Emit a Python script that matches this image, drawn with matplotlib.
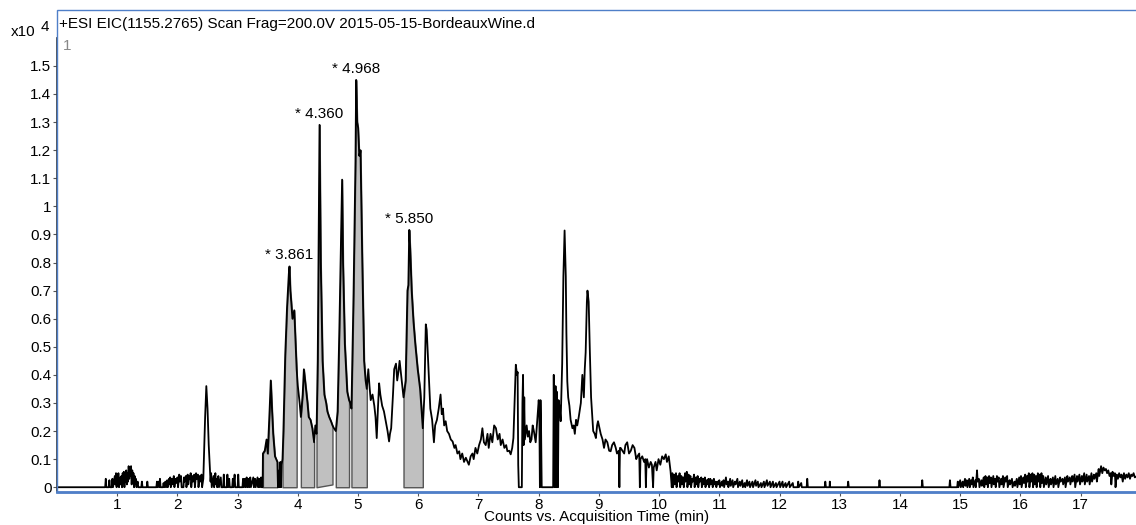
import numpy as np
import matplotlib
matplotlib.use("Agg")
import matplotlib.pyplot as plt
from matplotlib.patches import Rectangle

plt.rcParams['font.family'] = ['Liberation Sans', 'DejaVu Sans']

################################################################################
# chromatogram trace: (minutes, counts x10^4)

early_noise = [
    (0.00, 0), (0.80, 0), (0.81, 0.03), (0.82, 0), (0.86, 0), (0.87, 0.025), (0.88, 0),
    (0.91, 0), (0.92, 0.03), (0.93, 0), (0.96, 0.04), (0.97, 0.01), (0.98, 0.05), (0.99, 0),
    (1.00, 0.045), (1.01, 0.02), (1.02, 0.05), (1.03, 0), (1.05, 0.035), (1.06, 0.01),
    (1.07, 0.04), (1.08, 0), (1.09, 0.05), (1.10, 0.03), (1.11, 0.055), (1.12, 0),
    (1.13, 0.045), (1.14, 0.02), (1.15, 0.06), (1.16, 0.01), (1.17, 0.05), (1.18, 0.02),
    (1.19, 0.075), (1.20, 0.03), (1.21, 0.07), (1.22, 0.04), (1.23, 0.075), (1.24, 0.01),
    (1.25, 0.06), (1.26, 0.02), (1.27, 0.05), (1.28, 0), (1.29, 0.04), (1.30, 0.01),
    (1.31, 0.03), (1.32, 0), (1.34, 0.02), (1.35, 0), (1.40, 0), (1.41, 0.02), (1.42, 0),
    (1.49, 0), (1.50, 0.02), (1.51, 0),
    (1.65, 0), (1.66, 0.02), (1.67, 0), (1.69, 0.02), (1.70, 0), (1.71, 0.03), (1.72, 0),
    (1.76, 0), (1.77, 0.015), (1.78, 0), (1.80, 0.02), (1.81, 0), (1.83, 0.025), (1.84, 0),
    (1.86, 0.03), (1.87, 0.01), (1.88, 0.035), (1.89, 0), (1.91, 0.03), (1.92, 0.01),
    (1.94, 0.04), (1.95, 0), (1.97, 0.03), (1.98, 0.015), (2.00, 0.035), (2.01, 0),
    (2.03, 0.045), (2.04, 0.02), (2.06, 0.04), (2.07, 0), (2.10, 0), (2.11, 0.035),
    (2.12, 0.02), (2.14, 0.04), (2.15, 0), (2.17, 0.045), (2.18, 0.01), (2.20, 0.04),
    (2.21, 0.03), (2.22, 0.05), (2.23, 0), (2.25, 0.04), (2.26, 0.02), (2.28, 0.045),
    (2.29, 0), (2.31, 0.05), (2.32, 0.03), (2.34, 0.045), (2.35, 0), (2.37, 0.04),
    (2.38, 0.02), (2.40, 0.045), (2.41, 0), (2.43, 0.03), (2.44, 0.10), (2.46, 0.25),
    (2.48, 0.36), (2.50, 0.28), (2.52, 0.15), (2.54, 0.06), (2.55, 0.02), (2.56, 0.05),
    (2.57, 0), (2.60, 0.04), (2.61, 0), (2.63, 0.05), (2.64, 0.01), (2.65, 0.03), (2.66, 0),
    (2.68, 0.04), (2.69, 0), (2.72, 0.035), (2.73, 0), (2.76, 0), (2.77, 0.045), (2.78, 0),
    (2.82, 0), (2.83, 0.045), (2.84, 0), (2.86, 0.03), (2.87, 0), (2.91, 0), (2.92, 0.03),
    (2.93, 0), (2.95, 0.045), (2.96, 0), (3.00, 0), (3.01, 0.045), (3.02, 0), (3.08, 0),
    (3.09, 0.03), (3.10, 0), (3.12, 0.03), (3.13, 0), (3.15, 0.035), (3.16, 0), (3.18, 0.03),
    (3.19, 0), (3.21, 0.035), (3.22, 0), (3.26, 0.035), (3.27, 0), (3.29, 0.03), (3.30, 0),
    (3.33, 0.035), (3.34, 0), (3.36, 0.03), (3.37, 0), (3.39, 0.035), (3.40, 0), (3.415, 0),
]

main_peaks = [
    (3.42, 0.12), (3.45, 0.13), (3.48, 0.17), (3.50, 0.12), (3.53, 0.27), (3.55, 0.38),
    (3.57, 0.28), (3.59, 0.19), (3.62, 0.11), (3.64, 0.10), (3.66, 0.09), (3.67, 0),
    (3.69, 0.06), (3.70, 0), (3.71, 0.09), (3.72, 0), (3.73, 0.08), (3.745, 0.10),
    (3.76, 0.20), (3.79, 0.47), (3.82, 0.64), (3.85, 0.76), (3.861, 0.786), (3.875, 0.70),
    (3.89, 0.66), (3.91, 0.60), (3.94, 0.63), (3.96, 0.52), (3.98, 0.42), (4.00, 0.36),
    (4.03, 0.30), (4.05, 0.25), (4.08, 0.33), (4.10, 0.42), (4.12, 0.38), (4.14, 0.34),
    (4.16, 0.30), (4.18, 0.25), (4.21, 0.24), (4.24, 0.21), (4.27, 0.16), (4.29, 0.22),
    (4.31, 0.19), (4.33, 0.45), (4.35, 1.00), (4.36, 1.29), (4.38, 0.80), (4.41, 0.45),
    (4.44, 0.33), (4.47, 0.30), (4.49, 0.27), (4.52, 0.25), (4.55, 0.235), (4.575, 0.22),
    (4.60, 0.21), (4.63, 0.20), (4.66, 0.27), (4.69, 0.57), (4.72, 0.93), (4.735, 1.095),
    (4.75, 0.80), (4.78, 0.51), (4.82, 0.34), (4.85, 0.31), (4.87, 0.30), (4.89, 0.28),
    (4.925, 0.69), (4.957, 1.16), (4.968, 1.45), (4.985, 1.30), (5.00, 1.28), (5.02, 1.18),
    (5.04, 1.20), (5.07, 0.80), (5.10, 0.45), (5.125, 0.38), (5.145, 0.35), (5.17, 0.42),
    (5.19, 0.36), (5.21, 0.31), (5.24, 0.33), (5.27, 0.29), (5.29, 0.25), (5.31, 0.175),
    (5.33, 0.28), (5.35, 0.37), (5.37, 0.33), (5.40, 0.29), (5.43, 0.27), (5.46, 0.235),
    (5.49, 0.20), (5.515, 0.163), (5.53, 0.19), (5.55, 0.21), (5.58, 0.33), (5.60, 0.42),
    (5.63, 0.44), (5.65, 0.38), (5.67, 0.41), (5.69, 0.45), (5.72, 0.39), (5.755, 0.32),
    (5.79, 0.38), (5.82, 0.70), (5.835, 0.72), (5.85, 0.916), (5.865, 0.85), (5.875, 0.79),
    (5.89, 0.70), (5.92, 0.59), (5.95, 0.51), (5.99, 0.42), (6.03, 0.35), (6.06, 0.26),
    (6.075, 0.21),
]

middle = [
    (6.10, 0.32), (6.125, 0.58), (6.14, 0.56), (6.17, 0.42), (6.20, 0.28), (6.23, 0.24),
    (6.26, 0.16), (6.28, 0.22), (6.31, 0.24), (6.34, 0.28), (6.37, 0.33), (6.39, 0.26),
    (6.41, 0.28), (6.43, 0.22), (6.455, 0.235), (6.48, 0.20), (6.51, 0.19), (6.54, 0.17),
    (6.57, 0.163), (6.60, 0.14), (6.62, 0.15), (6.65, 0.12), (6.68, 0.128), (6.70, 0.10),
    (6.73, 0.12), (6.76, 0.09), (6.79, 0.105), (6.82, 0.09), (6.84, 0.08), (6.87, 0.11),
    (6.90, 0.12), (6.92, 0.10), (6.95, 0.14), (6.98, 0.12), (7.01, 0.15), (7.04, 0.17),
    (7.065, 0.21), (7.09, 0.16), (7.12, 0.15), (7.15, 0.19), (7.17, 0.14), (7.20, 0.19),
    (7.23, 0.16), (7.26, 0.22), (7.29, 0.21), (7.32, 0.17), (7.35, 0.19), (7.37, 0.15),
    (7.40, 0.17), (7.43, 0.14), (7.46, 0.15), (7.48, 0.128), (7.51, 0.13), (7.535, 0.117),
    (7.56, 0.14), (7.58, 0.175), (7.60, 0.30), (7.62, 0.436), (7.64, 0.40), (7.65, 0.41),
    (7.66, 0.08), (7.67, 0), (7.72, 0), (7.73, 0.30), (7.74, 0.40), (7.75, 0.15),
    (7.76, 0.32), (7.77, 0.17), (7.80, 0.22), (7.82, 0.18), (7.84, 0.20), (7.86, 0.16),
    (7.88, 0.17), (7.90, 0.22), (7.92, 0.20), (7.95, 0.16), (7.98, 0.25), (8.00, 0.31),
    (8.01, 0.28), (8.02, 0), (8.03, 0.31), (8.04, 0.20), (8.05, 0), (8.24, 0), (8.25, 0.40),
    (8.26, 0.10), (8.27, 0), (8.28, 0.36), (8.29, 0), (8.30, 0.34), (8.31, 0.05), (8.32, 0),
    (8.33, 0.31), (8.35, 0.28), (8.365, 0.235), (8.39, 0.44), (8.41, 0.75), (8.43, 0.914),
    (8.45, 0.75), (8.46, 0.55), (8.475, 0.377), (8.49, 0.32), (8.51, 0.29), (8.53, 0.24),
    (8.56, 0.21), (8.58, 0.22), (8.60, 0.19), (8.62, 0.24), (8.64, 0.22), (8.665, 0.25),
    (8.685, 0.28), (8.70, 0.30), (8.725, 0.40), (8.74, 0.35), (8.75, 0.32), (8.765, 0.42),
    (8.78, 0.48), (8.80, 0.66), (8.81, 0.70), (8.83, 0.66), (8.85, 0.48), (8.87, 0.32),
    (8.89, 0.25), (8.905, 0.20), (8.93, 0.19), (8.95, 0.175), (8.97, 0.22), (8.985, 0.235),
    (9.01, 0.21), (9.03, 0.19), (9.06, 0.17), (9.085, 0.14), (9.11, 0.17), (9.14, 0.16),
    (9.17, 0.13), (9.195, 0.128), (9.22, 0.15), (9.25, 0.16), (9.28, 0.14), (9.30, 0.12),
    (9.33, 0.13), (9.34, 0), (9.35, 0.14), (9.36, 0.14), (9.39, 0.13), (9.42, 0.12),
    (9.44, 0.15), (9.47, 0.16), (9.50, 0.12), (9.53, 0.13), (9.56, 0.15), (9.59, 0.14),
    (9.62, 0.10), (9.64, 0.11), (9.67, 0.12), (9.68, 0), (9.69, 0.10), (9.72, 0.11),
    (9.75, 0.09), (9.77, 0.10), (9.78, 0), (9.79, 0.08), (9.80, 0.10), (9.83, 0.07),
    (9.86, 0.09), (9.88, 0.08), (9.90, 0), (9.91, 0.07), (9.94, 0.09), (9.96, 0.06),
    (9.99, 0.10), (10.02, 0.08), (10.05, 0.11), (10.08, 0.10), (10.11, 0.117),
    (10.13, 0.09), (10.16, 0.11), (10.19, 0.057), (10.21, 0),
]

late_noise = [
    (10.22, 0.05), (10.23, 0), (10.25, 0.045), (10.26, 0.01), (10.28, 0.05), (10.29, 0),
    (10.31, 0.04), (10.32, 0.02), (10.34, 0.05), (10.35, 0), (10.37, 0.04), (10.38, 0.01),
    (10.40, 0.035), (10.41, 0), (10.43, 0.05), (10.44, 0.02), (10.46, 0.055), (10.47, 0),
    (10.49, 0.045), (10.50, 0.01), (10.52, 0.04), (10.53, 0), (10.55, 0.03), (10.56, 0.02),
    (10.58, 0.045), (10.59, 0), (10.61, 0.035), (10.62, 0.01), (10.64, 0.04), (10.65, 0),
    (10.67, 0.03), (10.68, 0.02), (10.70, 0.035), (10.71, 0), (10.73, 0.03), (10.74, 0.01),
    (10.76, 0.035), (10.77, 0), (10.79, 0.025), (10.80, 0.01), (10.82, 0.03), (10.83, 0),
    (10.85, 0.03), (10.86, 0.01), (10.88, 0.025), (10.89, 0), (10.91, 0.03), (10.92, 0.01),
    (10.94, 0.02), (10.95, 0), (10.97, 0.02), (10.98, 0.01), (11.00, 0.025), (11.01, 0),
    (11.04, 0.02), (11.05, 0.005), (11.07, 0.025), (11.08, 0), (11.11, 0.035), (11.12, 0.01),
    (11.14, 0.02), (11.15, 0), (11.18, 0.03), (11.19, 0.005), (11.22, 0.025), (11.23, 0),
    (11.26, 0.02), (11.27, 0.01), (11.30, 0.03), (11.31, 0), (11.34, 0.02), (11.35, 0.005),
    (11.38, 0.025), (11.39, 0), (11.42, 0.015), (11.43, 0), (11.46, 0.025), (11.47, 0.005),
    (11.50, 0.02), (11.51, 0), (11.55, 0.02), (11.56, 0), (11.60, 0.025), (11.61, 0.005),
    (11.64, 0.02), (11.65, 0), (11.69, 0.015), (11.70, 0), (11.74, 0.02), (11.75, 0),
    (11.79, 0.025), (11.80, 0.005), (11.84, 0.02), (11.85, 0), (11.89, 0.02), (11.90, 0),
    (11.94, 0.015), (11.95, 0), (12.00, 0.02), (12.01, 0), (12.05, 0.02), (12.06, 0),
    (12.10, 0.015), (12.11, 0), (12.16, 0.02), (12.17, 0), (12.22, 0.015), (12.23, 0),
    (12.30, 0), (12.31, 0.02), (12.32, 0), (12.36, 0.015), (12.37, 0), (12.45, 0),
    (12.46, 0.03), (12.47, 0), (12.75, 0), (12.76, 0.02), (12.77, 0), (12.83, 0),
    (12.835, 0.02), (12.84, 0), (13.13, 0), (13.14, 0.02), (13.15, 0), (13.65, 0),
    (13.66, 0.025), (13.67, 0), (14.36, 0), (14.37, 0.025), (14.38, 0), (14.82, 0),
    (14.83, 0.025), (14.84, 0), (14.95, 0), (14.96, 0.02), (14.97, 0),
]

tail_noise = [
    (15.00, 0.025), (15.01, 0), (15.04, 0.02), (15.05, 0), (15.08, 0.03), (15.09, 0.005),
    (15.11, 0.025), (15.12, 0), (15.15, 0.03), (15.16, 0), (15.18, 0.025), (15.19, 0.01),
    (15.21, 0.035), (15.22, 0), (15.25, 0.025), (15.26, 0), (15.28, 0.06), (15.29, 0.02),
    (15.31, 0.03), (15.32, 0), (15.35, 0.025), (15.36, 0.005), (15.39, 0.035), (15.40, 0),
    (15.42, 0.04), (15.43, 0.01), (15.45, 0.035), (15.46, 0), (15.48, 0.04), (15.49, 0.015),
    (15.51, 0.035), (15.52, 0), (15.55, 0.04), (15.56, 0.01), (15.58, 0.03), (15.59, 0),
    (15.61, 0.04), (15.62, 0.02), (15.64, 0.035), (15.65, 0), (15.68, 0.03), (15.69, 0.01),
    (15.71, 0.04), (15.72, 0), (15.75, 0.035), (15.76, 0.02), (15.78, 0.04), (15.79, 0),
    (15.82, 0.025), (15.83, 0.01), (15.86, 0.03), (15.87, 0), (15.90, 0.02), (15.91, 0.005),
    (15.94, 0.03), (15.95, 0), (15.98, 0.035), (15.99, 0.01), (16.01, 0.04), (16.02, 0),
    (16.05, 0.035), (16.06, 0.015), (16.08, 0.045), (16.09, 0), (16.11, 0.04), (16.12, 0.02),
    (16.14, 0.05), (16.15, 0), (16.17, 0.045), (16.18, 0.02), (16.20, 0.05), (16.21, 0),
    (16.23, 0.045), (16.24, 0.01), (16.26, 0.04), (16.27, 0), (16.29, 0.05), (16.30, 0.02),
    (16.32, 0.045), (16.33, 0), (16.35, 0.05), (16.36, 0.015), (16.38, 0.04), (16.39, 0),
    (16.42, 0.035), (16.43, 0.01), (16.46, 0.04), (16.47, 0), (16.50, 0.03), (16.51, 0.01),
    (16.54, 0.035), (16.55, 0), (16.58, 0.04), (16.59, 0.01), (16.62, 0.03), (16.63, 0),
    (16.66, 0.035), (16.67, 0.02), (16.70, 0.03), (16.71, 0.01), (16.74, 0.035), (16.75, 0),
    (16.78, 0.04), (16.79, 0.02), (16.82, 0.035), (16.83, 0.01), (16.86, 0.04), (16.87, 0.02),
    (16.90, 0.045), (16.91, 0), (16.94, 0.04), (16.95, 0.02), (16.98, 0.045), (16.99, 0.01),
    (17.02, 0.04), (17.03, 0.02), (17.06, 0.05), (17.07, 0.01), (17.10, 0.045), (17.11, 0.02),
    (17.14, 0.04), (17.15, 0.01), (17.18, 0.05), (17.19, 0.02), (17.22, 0.045), (17.23, 0.03),
    (17.26, 0.05), (17.27, 0.02), (17.30, 0.065), (17.31, 0.04), (17.34, 0.075), (17.36, 0.05),
    (17.38, 0.07), (17.40, 0.06), (17.42, 0.065), (17.44, 0.05), (17.46, 0.06), (17.48, 0.04),
    (17.50, 0.05), (17.51, 0.01), (17.53, 0.055), (17.55, 0.04), (17.57, 0.05), (17.58, 0),
    (17.60, 0.045), (17.62, 0.03), (17.64, 0.05), (17.66, 0.035), (17.68, 0.045), (17.70, 0.02),
    (17.72, 0.05), (17.74, 0.03), (17.76, 0.045), (17.78, 0.035), (17.80, 0.05), (17.82, 0.03),
    (17.84, 0.045), (17.86, 0.04), (17.88, 0.05), (17.90, 0.035), (17.94, 0.04),
]

# integrated peaks (gray areas): start/end time and baseline level at each end
fill_start = [3.42, 3.745, 4.05, 4.31, 4.63, 4.89, 5.755]
fill_end = [3.66, 3.98, 4.27, 4.575, 4.85, 5.145, 6.075]
base_start = [0, 0, 0, 0, 0, 0, 0]
base_end = [0, 0, 0, 0.01, 0, 0, 0]

# labelled peaks
peak_times = [3.861, 4.360, 4.968, 5.850]
peak_labels = ['* 3.861', '* 4.360', '* 4.968', '* 5.850']

title_text = '+ESI EIC(1155.2765) Scan Frag=200.0V 2015-05-15-BordeauxWine.d'
x_ticks = list(range(1, 18))
y_ticks = [0, 0.1, 0.2, 0.3, 0.4, 0.5, 0.6, 0.7, 0.8, 0.9, 1, 1.1, 1.2, 1.3, 1.4, 1.5]
################################################################################

trace = np.array(early_noise + main_peaks + middle + late_noise + tail_noise)
t = trace[:, 0]
v = trace[:, 1]

W, H = 1136, 525
fig = plt.figure(figsize=(W / 100, H / 100), dpi=100)
ax = fig.add_axes([57 / W, 33 / H, (W - 57) / W, 482 / H])

frame_blue = '#4f7fc8'
fs = 11

# gray integrated areas
for i in range(len(fill_start)):
    m = (t >= fill_start[i] - 1e-9) & (t <= fill_end[i] + 1e-9)
    base = np.interp(t[m], [fill_start[i], fill_end[i]], [base_start[i], base_end[i]])
    ax.fill_between(t[m], v[m], base, facecolor='#c0c0c0', edgecolor='#555555',
                    linewidth=1.0, zorder=1)

ax.plot(t, v, color='black', linewidth=1.3, zorder=2)

for pt, lab in zip(peak_times, peak_labels):
    py = np.interp(pt, t, v)
    ax.annotate(lab, (pt, py), xytext=(0, 3), textcoords='offset points',
                ha='center', va='bottom', fontsize=fs)

ax.set_xlim(0, 17.92)
ax.set_ylim(-0.017, 1.699)
ax.set_xticks(x_ticks)
ax.set_xticklabels([str(x) for x in x_ticks])
ax.set_yticks(y_ticks)
ax.set_yticklabels(['%g' % y for y in y_ticks])
ax.tick_params(axis='both', labelsize=fs, length=3, width=0.8, color='#555555', pad=1)

for s in ['top', 'right']:
    ax.spines[s].set_visible(False)
ax.spines['left'].set_color('#333333')
ax.spines['left'].set_linewidth(1.2)
ax.spines['left'].set_bounds(-0.017, 1.60)
ax.spines['bottom'].set_color(frame_blue)
ax.spines['bottom'].set_linewidth(2.0)

# blue frame round the plot area
ax.add_patch(Rectangle((0, 0), 1.2, 1.0, transform=ax.transAxes, fill=False,
                       edgecolor=frame_blue, linewidth=1.0, clip_on=False, zorder=3))

ax.text(0.002, 0.985, title_text, transform=ax.transAxes, ha='left', va='top', fontsize=fs)
ax.text(0.005, 0.94, '1', transform=ax.transAxes, ha='left', va='top', fontsize=fs,
        color='#888888')

fig.text(11 / W, 1 - 36 / H, 'x10', ha='left', va='baseline', fontsize=fs)
fig.text(41 / W, 1 - 31 / H, '4', ha='left', va='baseline', fontsize=fs)

ax.set_xlabel('Counts vs. Acquisition Time (min)', fontsize=fs, labelpad=-1)

plt.savefig('out.png', dpi=100)
